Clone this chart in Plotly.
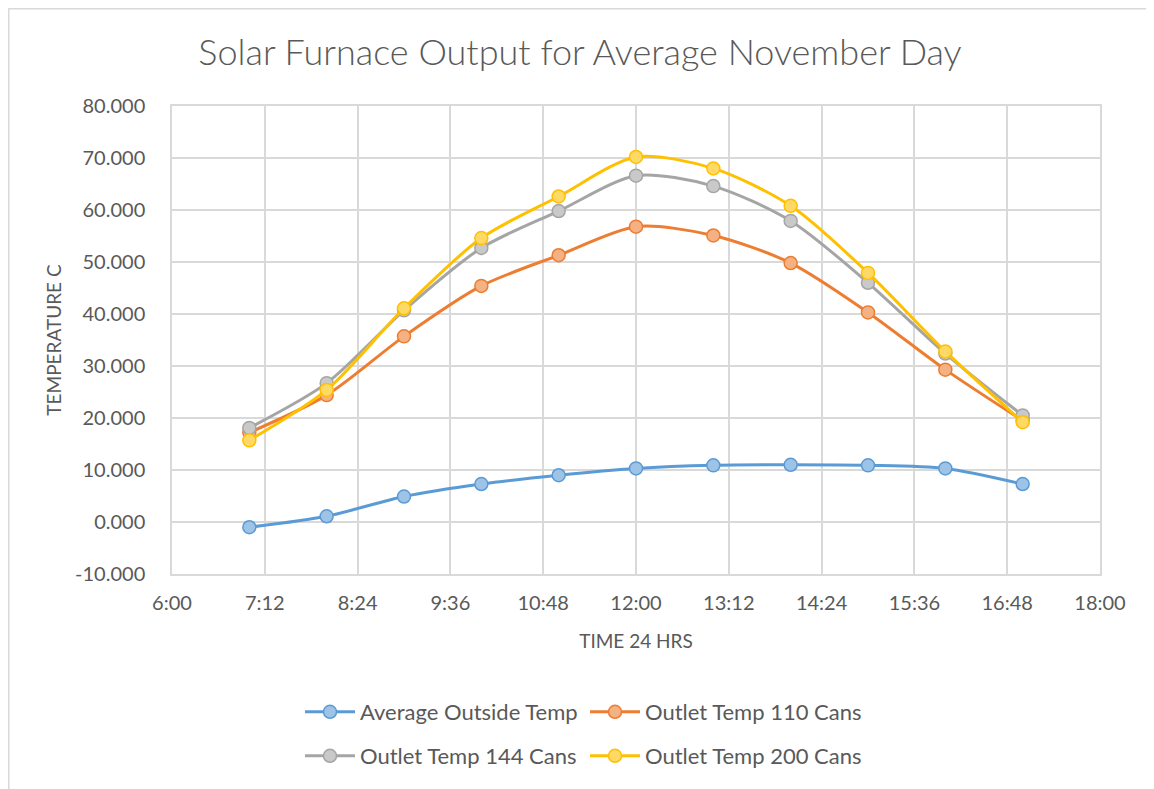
import plotly.graph_objects as go

# hourly readings, 7:00 .. 17:00
times = ["2000-01-01 %02d:00" % h for h in range(7, 18)]

avg_outside = [-1.0, 1.1, 4.9, 7.3, 9.0, 10.3, 10.9, 11.0, 10.9, 10.3, 7.3]
cans_110 = [17.2, 24.4, 35.7, 45.4, 51.3, 56.8, 55.1, 49.8, 40.3, 29.3, 19.5]
cans_144 = [18.1, 26.7, 40.7, 52.7, 59.8, 66.6, 64.6, 57.9, 46.0, 32.4, 20.5]
cans_200 = [15.7, 25.4, 41.1, 54.6, 62.6, 70.2, 68.0, 60.8, 47.9, 32.8, 19.2]

y_ticks = [-10, 0, 10, 20, 30, 40, 50, 60, 70, 80]
y_labels = ["-10.000", "0.000", "10.000", "20.000", "30.000",
            "40.000", "50.000", "60.000", "70.000", "80.000"]

series = [
    ("Average Outside Temp", avg_outside, "#5B9BD5", "#9DC3E6", "legend"),
    ("Outlet Temp 110 Cans", cans_110, "#ED7D31", "#F4B183", "legend"),
    ("Outlet Temp 144 Cans", cans_144, "#A5A5A5", "#C9C9C9", "legend2"),
    ("Outlet Temp 200 Cans", cans_200, "#FFC000", "#FFD966", "legend2"),
]

TXT = "#595959"
GRID = "#D9D9D9"
FONT = "Lato"

# page body has an 8px margin, so the figure is sized/placed to compensate
W, H = 1146, 789 - 8
L, R, T, B = 164, 54, 98, 215
PW, PH = W - L - R, H - T - B

fig = go.Figure()
for name, vals, col, fill, leg in series:
    fig.add_trace(
        go.Scatter(
            x=times,
            y=vals,
            name=name,
            mode="lines+markers",
            line=dict(color=col, width=3, shape="spline", smoothing=0.8),
            marker=dict(size=13, color=fill, line=dict(color=col, width=1.5)),
            legend=leg,
        )
    )

leg_common = dict(
    orientation="h",
    xanchor="left",
    yanchor="middle",
    font=dict(family=FONT, size=22, color=TXT),
    entrywidth=220,
    entrywidthmode="pixels",
    itemwidth=50,
    bgcolor="rgba(0,0,0,0)",
)
leg_x = (302 - 8 - 2 - L) / PW

fig.update_layout(
    width=W,
    height=H,
    paper_bgcolor="white",
    plot_bgcolor="white",
    margin=dict(l=L, r=R, t=T, b=B),
    font=dict(family=FONT, color=TXT),
    title=dict(
        text="Solar Furnace Output for Average November Day",
        x=(580 - 8 - L) / PW,
        xref="paper",
        xanchor="center",
        y=1 - 44 / H,
        yanchor="middle",
        font=dict(family=FONT, size=36, color=TXT, weight=300),
    ),
    xaxis=dict(
        type="date",
        range=["2000-01-01 06:00", "2000-01-01 18:00"],
        tick0="2000-01-01 06:00",
        dtick=72 * 60 * 1000,
        tickformat="%-H:%M",
        showgrid=True,
        gridcolor=GRID,
        gridwidth=1.5,
        showline=True,
        linecolor=GRID,
        linewidth=1.5,
        mirror=True,
        ticks="",
        ticklabelstandoff=10,
        tickfont=dict(family=FONT, size=20, color=TXT),
        title=dict(text="TIME 24 HRS", font=dict(family=FONT, size=19, color=TXT), standoff=22),
        zeroline=False,
    ),
    yaxis=dict(
        range=[-10, 80],
        tickvals=y_ticks,
        ticktext=y_labels,
        showgrid=True,
        gridcolor=GRID,
        gridwidth=1.5,
        showline=True,
        linecolor=GRID,
        linewidth=1.5,
        mirror=True,
        ticks="",
        ticklabelstandoff=21,
        tickfont=dict(family=FONT, size=20, color=TXT),
        title=dict(text="TEMPERATURE C", font=dict(family=FONT, size=19, color=TXT), standoff=8),
        zeroline=False,
    ),
    legend=dict(leg_common, x=leg_x, y=-(712 - 574) / PH),
    legend2=dict(leg_common, x=leg_x, y=-(756 - 574) / PH),
    shapes=[
        dict(
            type="rect",
            xref="paper",
            yref="paper",
            x0=(0.75 - L) / PW,
            x1=(W + 30 - L) / PW,
            y0=-(B + 30) / PH,
            y1=(T + PH - 0.75) / PH,
            line=dict(color=GRID, width=1.5),
            layer="below",
        )
    ],
)

fig.write_html("out.html")
